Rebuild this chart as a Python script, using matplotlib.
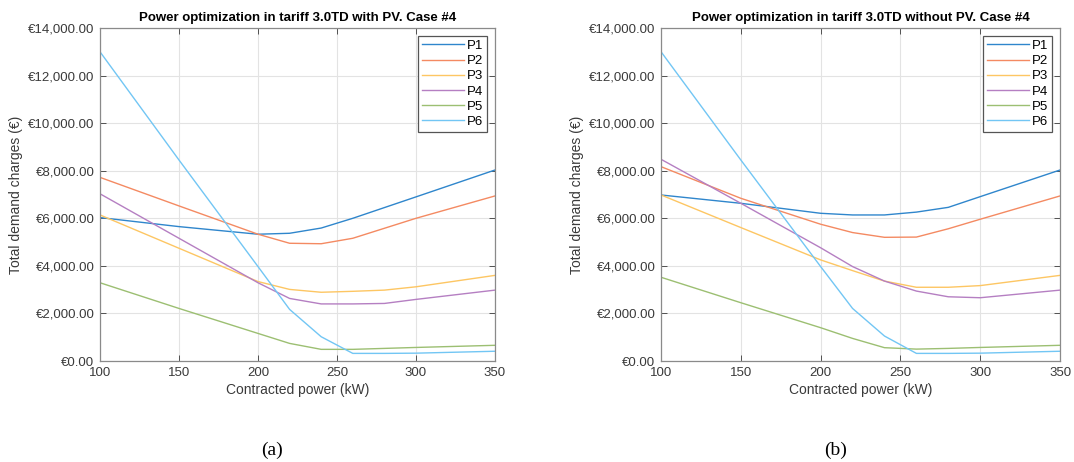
import matplotlib.pyplot as plt
from matplotlib.ticker import FuncFormatter

plt.rcParams["font.family"] = ["Liberation Sans", "DejaVu Sans"]

power_kw = [100, 150, 200, 220, 240, 260, 280, 300, 350]
series_names = ["P1", "P2", "P3", "P4", "P5", "P6"]

# case (a): with PV
with_pv = {
    "P1": [6030, 5650, 5330, 5370, 5590, 6000, 6450, 6900, 8030],
    "P2": [7720, 6520, 5330, 4950, 4930, 5160, 5580, 6000, 6940],
    "P3": [6140, 4740, 3340, 3010, 2890, 2930, 2980, 3120, 3600],
    "P4": [7030, 5160, 3290, 2630, 2400, 2400, 2420, 2590, 2980],
    "P5": [3290, 2210, 1160, 740, 490, 490, 530, 570, 660],
    "P6": [13000, 8450, 3970, 2170, 1020, 320, 320, 330, 410],
}
# case (b): without PV
without_pv = {
    "P1": [6980, 6630, 6210, 6140, 6140, 6260, 6460, 6910, 8030],
    "P2": [8170, 6840, 5750, 5400, 5200, 5210, 5560, 5960, 6940],
    "P3": [6980, 5610, 4250, 3800, 3360, 3100, 3100, 3170, 3600],
    "P4": [8480, 6630, 4760, 3970, 3360, 2940, 2700, 2660, 2980],
    "P5": [3520, 2450, 1400, 950, 560, 500, 530, 570, 660],
    "P6": [13000, 8450, 3970, 2210, 1050, 320, 320, 330, 410],
}
titles = [
    "Power optimization in tariff 3.0TD with PV. Case #4",
    "Power optimization in tariff 3.0TD without PV. Case #4",
]
captions = ["(a)", "(b)"]

colors = ["#2f86cc", "#f48a62", "#fdc663", "#b57fc2", "#9cbf72", "#72c6f4"]
edge = "#8a8a8a"
text_color = "#3a3a3a"


def euro(value, _pos):
    return f"€{value:,.2f}"


fig = plt.figure(figsize=(10.74, 4.62), dpi=100)
positions = [
    [0.0931, 0.2186, 0.3678, 0.7208],
    [0.6155, 0.2186, 0.3715, 0.7208],
]
caption_x = [0.253, 0.778]

for pos, data, title, caption, cx in zip(
    positions, [with_pv, without_pv], titles, captions, caption_x
):
    axis = fig.add_axes(pos)
    for name, color in zip(series_names, colors):
        axis.plot(power_kw, data[name], color=color, linewidth=1.0, label=name)

    axis.set_xlim(100, 350)
    axis.set_ylim(0, 14000)
    axis.set_xticks([100, 150, 200, 250, 300, 350])
    axis.set_yticks(range(0, 14001, 2000))
    axis.yaxis.set_major_formatter(FuncFormatter(euro))
    axis.grid(True, color="#e3e3e3", linewidth=0.8)
    axis.set_axisbelow(True)
    axis.tick_params(
        direction="in", top=True, right=True, labelsize=9.5,
        colors=text_color, length=4, width=0.6, pad=4,
    )
    for spine in axis.spines.values():
        spine.set_color(edge)
        spine.set_linewidth(0.9)

    axis.set_title(title, fontsize=9.5, fontweight="bold", pad=5)
    axis.set_xlabel("Contracted power (kW)", fontsize=10, color=text_color,
                    labelpad=3)
    axis.set_ylabel("Total demand charges (€)", fontsize=10,
                    color=text_color, labelpad=4)

    legend = axis.legend(
        loc="upper right", fontsize=9.5, handlelength=3.2,
        handletextpad=0.2, borderpad=0.3, labelspacing=0.22,
        fancybox=False, framealpha=1, borderaxespad=0.6,
    )
    legend.get_frame().set_edgecolor("#555555")
    legend.get_frame().set_linewidth(0.9)

    fig.text(cx, 0.026, caption, fontsize=14, family="Liberation Serif",
             ha="center", va="center")

fig.savefig("out.png", dpi=100)
